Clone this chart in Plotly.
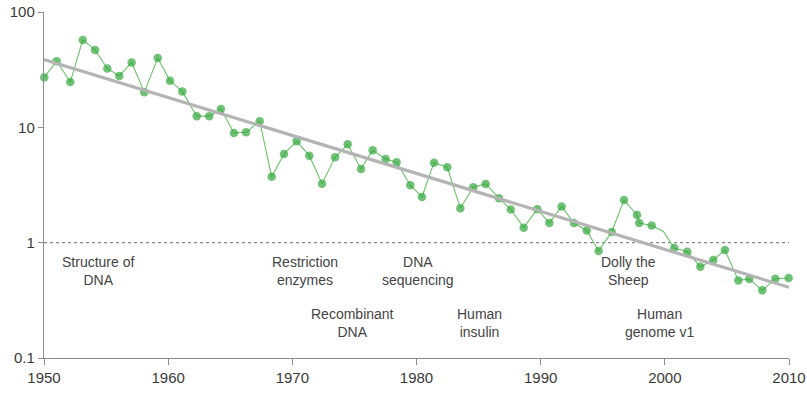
import plotly.graph_objects as go

years = [1950.02, 1951.02, 1952.12, 1953.12, 1954.11, 1955.10, 1956.06, 1957.06, 1958.08, 1959.16,
         1960.15, 1961.14, 1962.30, 1963.31, 1964.25, 1965.30, 1966.27, 1967.37, 1968.34, 1969.33,
         1970.35, 1971.37, 1972.39, 1973.44, 1974.46, 1975.53, 1976.47, 1977.52, 1978.40, 1979.50,
         1980.44, 1981.41, 1982.48, 1983.53, 1984.57, 1985.57, 1986.64, 1987.59, 1988.63, 1989.73,
         1990.70, 1991.69, 1992.68, 1993.71, 1994.67, 1995.72, 1996.71, 1997.76, 1997.94, 1998.94,
         1999.88, 2000.76, 2001.81, 2002.86, 2003.90, 2004.84, 2005.92, 2006.80, 2007.85, 2008.90,
         2009.97]
values = [27.1, 37.5, 24.7, 57.3, 46.9, 32.4, 27.9, 36.5, 20.1, 40.0,
          25.3, 20.5, 12.5, 12.5, 14.4, 8.93, 9.05, 11.3, 3.72, 5.88,
          7.57, 5.68, 3.25, 5.50, 7.13, 4.36, 6.32, 5.32, 4.98, 3.15,
          2.49, 4.94, 4.51, 1.99, 3.03, 3.23, 2.43, 1.94, 1.35, 1.95,
          1.48, 2.06, 1.48, 1.275, 0.846, 1.24, 2.34, 1.74, 1.48, 1.41,
          1.25, 0.898, 0.834, 0.619, 0.707, 0.863, 0.471, 0.484, 0.386, 0.487,
          0.494]
# the 1999.88 point is drawn without a marker in the original
marker_visible = [1] * len(years)
marker_visible[50] = 0

trend_years = [1950, 2010]
trend_values = [38.7, 0.41]

ref_years = [1950, 2010]
ref_values = [1, 1]

x_ticks = [1950, 1960, 1970, 1980, 1990, 2000, 2010]
y_ticks = [0.1, 1, 10, 100]
y_tick_labels = ["0.1", "1", "10", "100"]

events = ["Structure of<br>DNA", "Restriction<br>enzymes", "DNA<br>sequencing",
          "Recombinant<br>DNA", "Human<br>insulin", "Dolly the<br>Sheep", "Human<br>genome v1"]
event_x = [1954.35, 1971.02, 1980.15, 1974.85, 1985.11, 1997.09, 1999.59]
event_logy = [-0.247, -0.247, -0.247, -0.693, -0.693, -0.247, -0.693]

FONT = "Liberation Sans, Arial, sans-serif"
AXIS = "#8c8c8c"

fig = go.Figure()
fig.add_trace(go.Scatter(x=ref_years, y=ref_values, mode="lines",
                         line=dict(color="#888888", width=1.2, dash="3px,3px"),
                         hoverinfo="skip", showlegend=False, cliponaxis=False))
fig.add_trace(go.Scatter(x=years, y=values, mode="lines+markers",
                         line=dict(color="#6cc06c", width=1.1),
                         marker=dict(color="#32a83a", size=[8.5 * v for v in marker_visible],
                                     line=dict(width=0)),
                         showlegend=False, cliponaxis=False))
fig.add_trace(go.Scatter(x=trend_years, y=trend_values, mode="lines",
                         line=dict(color="#b4b4b4", width=3.2),
                         showlegend=False))

for t, x, y in zip(events, event_x, event_logy):
    fig.add_annotation(x=x, y=y, xref="x", yref="y", text=t, showarrow=False,
                       font=dict(family=FONT, size=14, color="#444444"),
                       align="center", xanchor="center", yanchor="middle")

fig.update_xaxes(range=[1950, 2010], tickvals=x_ticks, showgrid=False, zeroline=False,
                 showline=True, linecolor=AXIS, linewidth=1.4, automargin=False,
                 ticks="outside", ticklen=6, tickcolor=AXIS, tickwidth=1.4,
                 tickfont=dict(family=FONT, size=15, color="#3a3a3a"))
fig.update_yaxes(type="log", range=[-1, 2], tickvals=y_ticks, ticktext=y_tick_labels,
                 showgrid=False, zeroline=False, automargin=False,
                 showline=True, linecolor=AXIS, linewidth=1.4,
                 ticks="outside", ticklen=5, tickcolor=AXIS, tickwidth=1.4,
                 tickfont=dict(family=FONT, size=15, color="#3a3a3a"))

fig.update_layout(width=807, height=396, margin=dict(l=44, r=18, t=12, b=38),
                  plot_bgcolor="white", paper_bgcolor="white")

fig.write_html("out.html", config={"displayModeBar": False},
               post_script="document.body.style.margin='0px';document.body.style.overflow='hidden';")
